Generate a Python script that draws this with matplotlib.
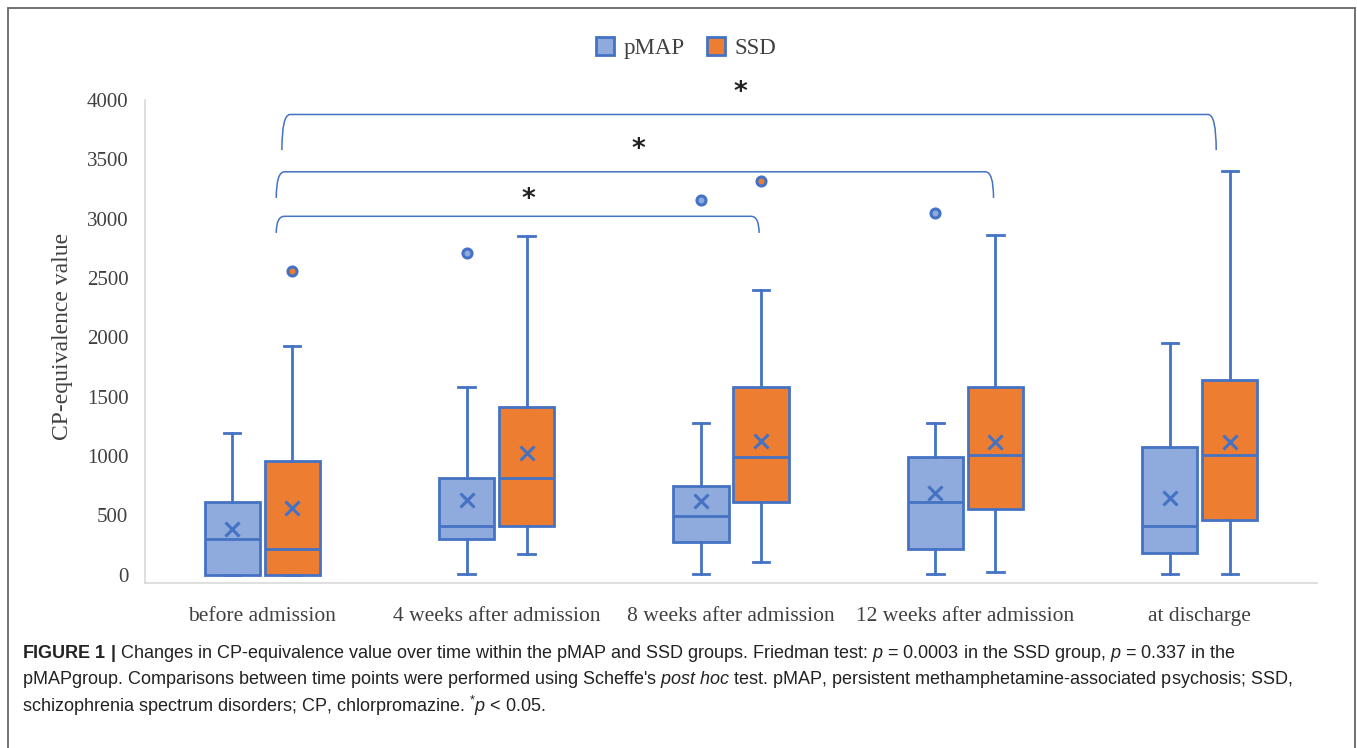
import matplotlib
matplotlib.use("Agg")
import matplotlib.pyplot as plt
from matplotlib.path import Path
from matplotlib.patches import PathPatch, Patch, Rectangle

plt.rcParams['mathtext.fontset'] = 'custom'
plt.rcParams['mathtext.rm'] = 'Liberation Sans'
plt.rcParams['mathtext.it'] = 'Liberation Sans:italic'
plt.rcParams['mathtext.bf'] = 'Liberation Sans:bold'

# ---------------- data ----------------
categories = ["before admission", "4 weeks after admission", "8 weeks after admission",
              "12 weeks after admission", "at discharge"]
series = ["pMAP", "SSD"]

pmap_whislo = [0, 10, 10, 10, 10]
pmap_q1 = [0, 300, 275, 220, 180]
pmap_med = [300, 410, 495, 610, 410]
pmap_q3 = [610, 815, 750, 990, 1080]
pmap_whishi = [1195, 1580, 1280, 1280, 1950]
pmap_mean = [385, 630, 620, 690, 650]
pmap_fliers = [[], [2710], [3160], [3050], []]

ssd_whislo = [0, 175, 110, 20, 10]
ssd_q1 = [0, 410, 610, 555, 460]
ssd_med = [220, 815, 995, 1010, 1010]
ssd_q3 = [960, 1410, 1580, 1580, 1640]
ssd_whishi = [1930, 2850, 2400, 2860, 3400]
ssd_mean = [565, 1025, 1130, 1115, 1115]
ssd_fliers = [[2560], [], [3320], [], []]

# significance brackets: (start group, end group, star label)
bracket_from = [0, 0, 0]
bracket_to = [2, 3, 4]
bracket_top = [3020, 3395, 3878]
bracket_drop = [140, 220, 300]
bracket_label = ["*", "*", "*"]
star_x = [1.134, 1.603, 2.039]
star_y = [3200, 3621, 4101]

yticks = [0, 500, 1000, 1500, 2000, 2500, 3000, 3500, 4000]

# ---------------- style ----------------
BLUE = "#4472C4"
PMAP_FILL = "#8FAADC"
SSD_FILL = "#ED7D31"
AXIS_GRAY = "#D9D9D9"
TEXT_GRAY = "#404040"
SERIF = "Liberation Serif"

fig = plt.figure(figsize=(13.57, 7.48), dpi=100)
ax = fig.add_axes([145/1357, 1-583/748, (1317-145)/1357, (583-100)/748])

def stats(i, wl, q1, med, q3, wh, mean, fl):
    return dict(whislo=wl[i], q1=q1[i], med=med[i], q3=q3[i], whishi=wh[i],
                mean=mean[i], fliers=fl[i])

offset = 0.128
bw = 0.235
capw = 0.07

for name, fill, wl, q1, med, q3, wh, mean, fl, sgn in [
        ("pMAP", PMAP_FILL, pmap_whislo, pmap_q1, pmap_med, pmap_q3, pmap_whishi, pmap_mean, pmap_fliers, -1),
        ("SSD", SSD_FILL, ssd_whislo, ssd_q1, ssd_med, ssd_q3, ssd_whishi, ssd_mean, ssd_fliers, 1)]:
    st = [stats(i, wl, q1, med, q3, wh, mean, fl) for i in range(len(categories))]
    pos = [i + sgn * offset for i in range(len(categories))]
    ax.bxp(st, positions=pos, widths=bw, capwidths=capw, patch_artist=True,
           showmeans=True, manage_ticks=False,
           boxprops=dict(facecolor=fill, edgecolor=BLUE, linewidth=2.0),
           medianprops=dict(color=BLUE, linewidth=2.0),
           whiskerprops=dict(color=BLUE, linewidth=2.0),
           capprops=dict(color=BLUE, linewidth=2.0),
           meanprops=dict(marker="x", markeredgecolor=BLUE, markersize=10, markeredgewidth=2.2),
           flierprops=dict(marker="o", markerfacecolor=fill, markeredgecolor=BLUE,
                           markersize=6.5, markeredgewidth=2.2))

ax.set_xlim(-0.5, len(categories) - 0.5)
ax.set_ylim(-70, 4000)
ax.set_yticks(yticks)
ax.set_yticklabels([str(t) for t in yticks], fontfamily=SERIF, fontsize=15, color=TEXT_GRAY)
ax.set_xticks(range(len(categories)))
ax.set_xticklabels(categories, fontfamily=SERIF, fontsize=15.5, color=TEXT_GRAY)
ax.tick_params(axis="both", length=0)
ax.tick_params(axis="x", pad=17)
ax.tick_params(axis="y", pad=12)
for s in ["top", "right"]:
    ax.spines[s].set_visible(False)
for s in ["left", "bottom"]:
    ax.spines[s].set_color(AXIS_GRAY)
    ax.spines[s].set_linewidth(1.2)
ax.set_ylabel("CP-equivalence value", fontfamily=SERIF, fontsize=17, color=TEXT_GRAY)
ax.yaxis.set_label_coords((73 - 145) / 1172, (583 - 336) / 483)

# brackets
dx = 0.035
starts_off = [0.06, 0.06, 0.084]
ends_off = [0.12, 0.12, 0.07]
for b0, b1, top, drop, so, eo in zip(bracket_from, bracket_to, bracket_top, bracket_drop,
                                     starts_off, ends_off):
    x0 = b0 + so
    x1 = b1 + eo
    ylo = top - drop
    verts = [(x0, ylo), (x0, top), (x0 + dx, top), (x1 - dx, top), (x1, top), (x1, ylo)]
    codes = [Path.MOVETO, Path.CURVE3, Path.CURVE3, Path.LINETO, Path.CURVE3, Path.CURVE3]
    ax.add_patch(PathPatch(Path(verts, codes), fill=False, edgecolor=BLUE, linewidth=1.1,
                           clip_on=False))
for lab, sx, sy in zip(bracket_label, star_x, star_y):
    ax.text(sx, sy - 40, lab, ha="center", va="center", fontsize=19, fontweight="bold",
            fontfamily="DejaVu Sans", color="#222222", clip_on=False)

# legend
handles = [Patch(facecolor=PMAP_FILL, edgecolor=BLUE, linewidth=2, label="pMAP"),
           Patch(facecolor=SSD_FILL, edgecolor=BLUE, linewidth=2, label="SSD")]
fig.legend(handles=handles, loc="center", bbox_to_anchor=(686/1357, 1-48/748), ncol=2,
           frameon=False, handlelength=0.8, handleheight=0.8, handletextpad=0.4,
           columnspacing=1.0, prop=dict(family=SERIF, size=16.5), labelcolor=TEXT_GRAY)

# outer border
fig.add_artist(Rectangle((8/1357, -0.05), (1355-8)/1357, 1.05 - 8/748, transform=fig.transFigure,
                         fill=False, edgecolor="#666666", linewidth=1.3))

# caption
cap_lines = [
    r"$\mathbf{FIGURE\ 1\ |}$ Changes in CP-equivalence value over time within the pMAP and SSD groups. Friedman test: $\mathit{p}$ = 0.0003 in the SSD group, $\mathit{p}$ = 0.337 in the",
    r"pMAPgroup. Comparisons between time points were performed using Scheffe's $\mathit{post\ hoc}$ test. pMAP, persistent methamphetamine-associated psychosis; SSD,",
    r"schizophrenia spectrum disorders; CP, chlorpromazine. $^{*}\mathit{p}$ < 0.05.",
]
cap_y = [653, 679, 706]
for line, y in zip(cap_lines, cap_y):
    fig.text(22/1357, 1 - y/748, line, ha="left", va="center", fontfamily="Liberation Sans",
             fontsize=13, color="#222222")

fig.savefig("out.png", dpi=100)
